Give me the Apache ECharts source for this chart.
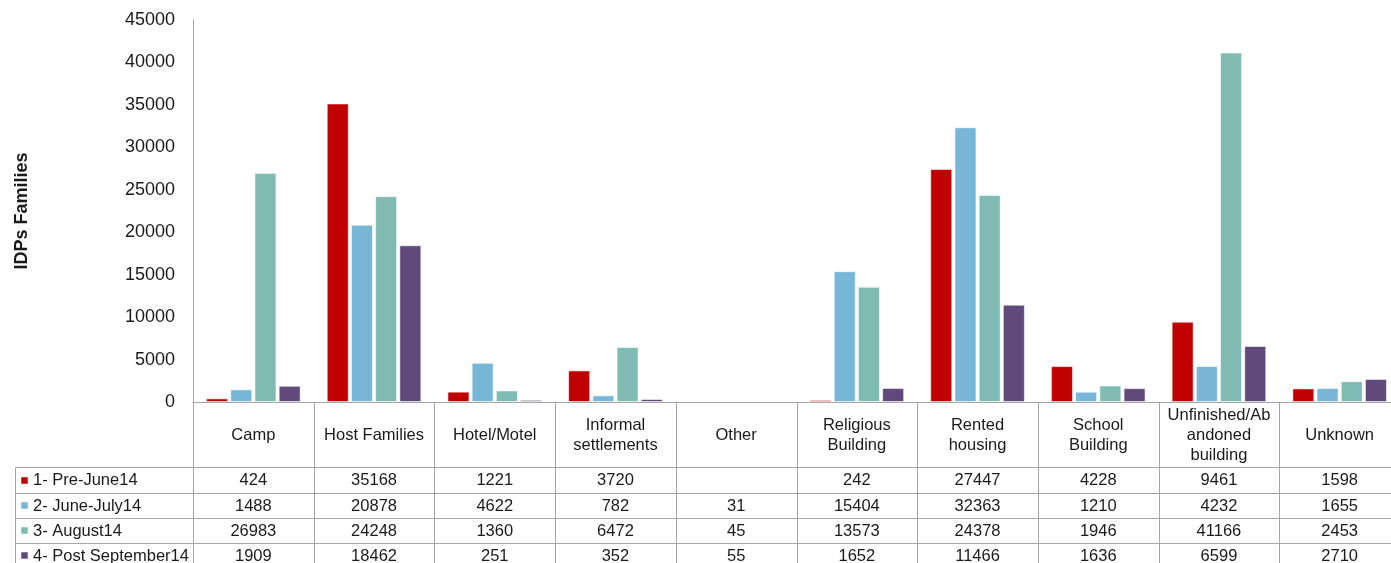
<!DOCTYPE html>
<html>
<head>
<meta charset="utf-8">
<script src="https://cdn.jsdelivr.net/npm/echarts@6/dist/echarts.min.js"></script>
<style>
html,body{margin:0;padding:0;background:#fff;}
#chart{width:1391px;height:563px;}
</style>
</head>
<body>
<div id="chart"></div>
<script>
// ---- data ----
const categories = ['Camp','Host Families','Hotel/Motel','Informal settlements','Other','Religious Building','Rented housing','School Building','Unfinished/Abandoned building','Unknown'];
const categoryLabels = ['Camp','Host Families','Hotel/Motel','Informal\nsettlements','Other','Religious\nBuilding','Rented\nhousing','School\nBuilding','Unfinished/Ab\nandoned\nbuilding','Unknown'];
const seriesNames = ['1- Pre-June14','2- June-July14','3- August14','4- Post September14'];
const preJune14 = [424,35168,1221,3720,null,242,27447,4228,9461,1598];
const juneJuly14 = [1488,20878,4622,782,31,15404,32363,1210,4232,1655];
const august14 = [26983,24248,1360,6472,45,13573,24378,1946,41166,2453];
const postSeptember14 = [1909,18462,251,352,55,1652,11466,1636,6599,2710];
const yTicks = [0,5000,10000,15000,20000,25000,30000,35000,40000,45000];
const seriesValues = [preJune14, juneJuly14, august14, postSeptember14];

// ---- style / layout ----
const colors = ['#C00000','#77B6D7','#7FBBB3','#604A7B'];
const FONT = 'Liberation Sans, Arial, Helvetica, sans-serif';
const TEXT = '#1a1a1a';
const LINE = '#a6a6a6';
const ROW_EDGES = [0, 65, 90.5, 115.5, 140.5, 166]; // table rows in px (header + 4)
const TABLE_LEFT = 15;
const PLOT_LEFT = 193, PLOT_WIDTH = 1207;

const chart = echarts.init(document.getElementById('chart'), null, {renderer:'canvas'});

const barSeries = seriesNames.map((name, i) => ({
  name: name,
  type: 'bar',
  xAxisIndex: 0, yAxisIndex: 0,
  data: seriesValues[i],
  barWidth: 22,
  barGap: '10%',
  itemStyle: {color: colors[i], borderColor: 'rgba(255,255,255,0.55)', borderWidth: 1},
  emphasis: {disabled: true},
  animation: false
}));

// table cells: [col, row, kind]  kind 0 = value/header cell, 1 = row label cell
const tableData = [];
for (let c = 0; c < categories.length; c++) tableData.push([c, 0, 0]);
for (let r = 0; r < seriesNames.length; r++) {
  tableData.push([0, r + 1, 1]);
  for (let c = 0; c < categories.length; c++) tableData.push([c, r + 1, 0]);
}

function crisp(v){ return Math.round(v) + 0.5; }

function renderCell(params, api) {
  const c = api.value(0), r = api.value(1), kind = api.value(2);
  const center = api.coord([c, 0])[0];
  const band = api.size([1, 0])[0];
  const y0 = crisp(api.coord([0, ROW_EDGES[r]])[1]);
  const y1 = crisp(api.coord([0, ROW_EDGES[r + 1]])[1]);
  let x0 = crisp(center - band / 2), x1 = crisp(center + band / 2);
  const children = [];
  if (kind === 1) {
    x1 = x0; x0 = crisp(TABLE_LEFT);
    const si = r - 1;
    const cy = (y0 + y1) / 2;
    children.push({type:'rect', shape:{x:x0, y:y0, width:x1 - x0, height:y1 - y0}, style:{fill:'none', stroke:LINE, lineWidth:1}});
    children.push({type:'rect', shape:{x:21, y:Math.round(cy) - 4, width:7, height:7}, style:{fill:colors[si], stroke:'rgba(255,255,255,0.5)', lineWidth:1}});
    children.push({type:'text', style:{text:seriesNames[si], x:33, y:cy, align:'left', verticalAlign:'middle', fontSize:16.5, fontFamily:FONT, fill:TEXT}});
  } else {
    children.push({type:'rect', shape:{x:x0, y:y0, width:x1 - x0, height:y1 - y0}, style:{fill:'none', stroke:LINE, lineWidth:1}});
    let txt;
    if (r === 0) txt = categoryLabels[c];
    else { const v = seriesValues[r - 1][c]; txt = (v === null || v === undefined) ? '' : String(v); }
    children.push({type:'text', style:{text:txt, x:center, y:(y0 + y1) / 2, align:'center', verticalAlign:'middle', fontSize:16.5, lineHeight:20, fontFamily:FONT, fill:TEXT}});
  }
  return {type:'group', children: children};
}

const option = {
  backgroundColor: '#ffffff',
  animation: false,
  grid: [
    {left: PLOT_LEFT, width: PLOT_WIDTH, top: 20, height: 382, containLabel: false, outerBoundsMode: 'none'},
    {left: PLOT_LEFT, width: PLOT_WIDTH, top: 402, height: 166, containLabel: false, outerBoundsMode: 'none'}
  ],
  xAxis: [
    {type:'category', gridIndex:0, data: categories,
     axisLine:{show:true, lineStyle:{color:LINE, width:1}}, axisTick:{show:false}, axisLabel:{show:false}, splitLine:{show:false}},
    {type:'category', gridIndex:1, data: categories, show:false}
  ],
  yAxis: [
    {type:'value', gridIndex:0, min: yTicks[0], max: yTicks[yTicks.length - 1], interval: yTicks[1] - yTicks[0],
     name:'IDPs Families', nameLocation:'middle', nameRotate:90, nameGap:162,
     nameTextStyle:{fontFamily:FONT, fontSize:18, fontWeight:'bold', color:TEXT},
     axisLine:{show:true, lineStyle:{color:LINE, width:1}}, axisTick:{show:false},
     axisLabel:{fontFamily:FONT, fontSize:18, color:TEXT, margin:18, formatter: v => String(v)}, splitLine:{show:false}},
    {type:'value', gridIndex:1, min:0, max:166, inverse:true, show:false}
  ],
  series: barSeries.concat([{
    type:'custom', xAxisIndex:1, yAxisIndex:1, data: tableData, renderItem: renderCell,
    clip:false, silent:true, animation:false, z: 5
  }])
};
chart.setOption(option);
</script>
</body>
</html>
